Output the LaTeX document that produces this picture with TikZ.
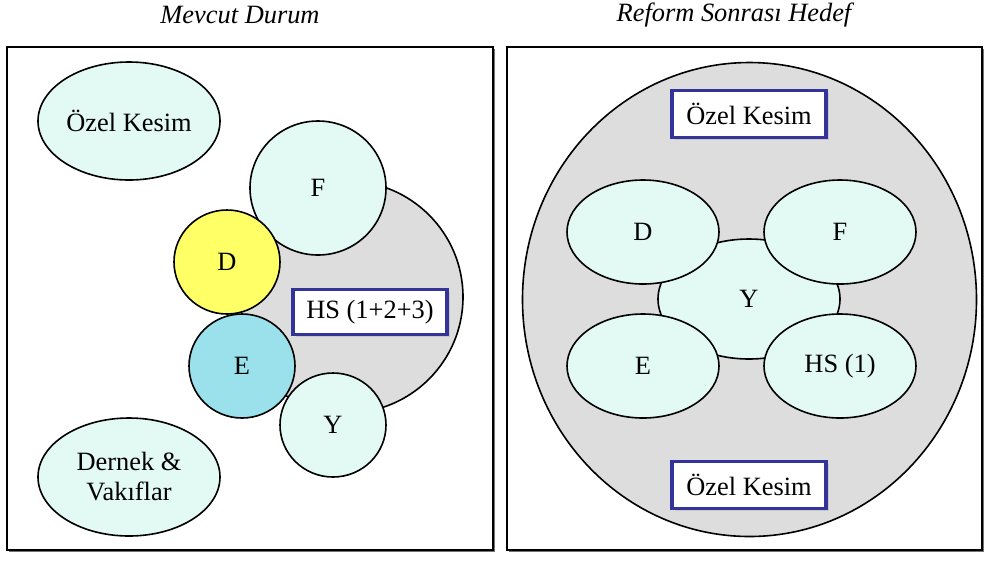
\documentclass[tikz,border=0pt]{standalone}
\usepackage{fontspec}
\setmainfont{Liberation Serif}
\usetikzlibrary{shapes.geometric,shadows}
\definecolor{aquapale}{HTML}{E3FAF4}
\definecolor{aquadeep}{HTML}{9AE1EB}
\definecolor{sunfill}{HTML}{FFFF66}
\definecolor{greyfill}{HTML}{DDDDDD}
\definecolor{navyrim}{HTML}{333399}
\tikzset{
  bubble/.style={ellipse,draw,line width=.8pt,fill=aquapale,inner sep=0pt},
  ball/.style={bubble,minimum width=53pt,minimum height=52pt},
  oval/.style={bubble,minimum width=76pt,minimum height=52pt},
  tagbox/.style={rectangle,draw=navyrim,line width=1.6pt,fill=white,inner sep=0pt,
    minimum width=77pt,minimum height=23pt,
    drop shadow={shadow xshift=1.3pt,shadow yshift=-1.3pt,fill=black!22,opacity=1}},
  frame/.style={draw,line width=.8pt,fill=white,
    drop shadow={shadow xshift=1pt,shadow yshift=-1pt,fill=black!55,opacity=1}},
  title/.style={font=\fontsize{13.2}{15}\selectfont\itshape}
}
\begin{document}
\begin{tikzpicture}[x=.5pt,y=-.5pt,font=\fontsize{13.2}{15}\selectfont]
\useasboundingbox (0,0) rectangle (986,564);
% titles
\node[title] (leftttl) at (240,15) {Mevcut Durum};
\node[title] (rightttl) at (734,15) {Reform Sonrası Hedef};
% frames
\draw[frame] (7,47) rectangle (493,550);
\draw[frame] (507,47) rectangle (982,550);
% left: current state
\node[ellipse,draw,line width=.8pt,fill=greyfill,minimum width=116pt,minimum height=116pt] (hsall) at (347,297) {};
\node[bubble,minimum width=91pt,minimum height=59pt] (ozel) at (129,121) {Özel Kesim};
\node[bubble,minimum width=91pt,minimum height=59pt,align=center] (dernek) at (129,477) {Dernek \&\\Vakıflar};
\node[bubble,minimum width=68pt,minimum height=67pt] (f) at (318,188) {F};
\node[ball,fill=sunfill] (d) at (227,262) {D};
\node[ball,fill=aquadeep] (e) at (242,366) {E};
\node[ball] (y) at (333,425) {Y};
\node[tagbox,minimum height=22.5pt] (hs) at (370,312) {HS (1+2+3)};
% right: target after reform
\node[ellipse,draw,line width=.8pt,fill=greyfill,minimum width=227pt,minimum height=237pt] (outer) at (749.5,299.5) {};
\node[bubble,minimum width=91pt,minimum height=60pt] (yy) at (749,299) {Y};
\node[oval] (dd) at (643,232) {D};
\node[oval] (ff) at (840,232) {F};
\node[oval] (ee) at (643,366) {E};
\node[oval] (hh) at (840,366) {HS (1)};
\node[tagbox,minimum height=23.5pt] (ozeltop) at (749,114) {Özel Kesim};
\node[tagbox,minimum height=23.5pt] (ozelbot) at (749,485) {Özel Kesim};
\end{tikzpicture}
\end{document}
